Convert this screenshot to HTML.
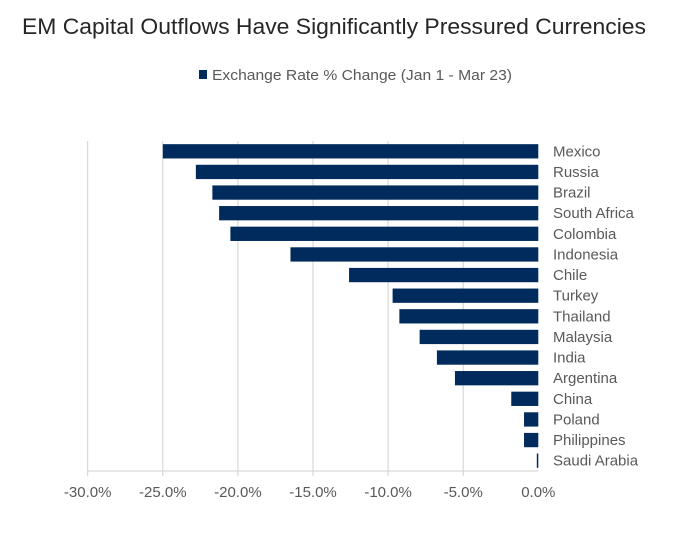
<!DOCTYPE html>
<html><head><meta charset="utf-8"><style>
html,body{margin:0;padding:0;background:#fff;}
svg{display:block;font-family:"Liberation Sans",sans-serif;}
</style></head><body>
<svg id="chart" width="685" height="536">
<text x="22" y="34" font-size="22" fill="#262626" textLength="624" lengthAdjust="spacingAndGlyphs">EM Capital Outflows Have Significantly Pressured Currencies</text>
<g>
<rect x="199" y="70" width="8" height="9" fill="#002B5C"/>
<text x="212" y="80" font-size="15" fill="#595959" textLength="300" lengthAdjust="spacingAndGlyphs">Exchange Rate % Change (Jan 1 - Mar 23)</text>
</g>
<g id="grid"></g>
<g id="bars"></g>
<g id="cats"></g>
<g id="xaxis"></g>
</svg>
<script>
const categories = ["Mexico","Russia","Brazil","South Africa","Colombia","Indonesia","Chile","Turkey","Thailand","Malaysia","India","Argentina","China","Poland","Philippines","Saudi Arabia"];
const values = [-25.0,-22.8,-21.7,-21.25,-20.5,-16.5,-12.6,-9.7,-9.25,-7.9,-6.75,-5.55,-1.8,-0.95,-0.95,-0.1];
const tickValues = [-30,-25,-20,-15,-10,-5,0];
const tickLabels = ["-30.0%","-25.0%","-20.0%","-15.0%","-10.0%","-5.0%","0.0%"];

const NS="http://www.w3.org/2000/svg";
const x0=87.7, x1=538.3, plotTop=141, plotBottom=471;
function xScale(v){return x0+(v+30)/30*(x1-x0);}
const step=(plotBottom-plotTop)/categories.length;
function yBand(i){return plotTop+i*step;}
function mk(t,a,p){const e=document.createElementNS(NS,t);for(const k in a)e.setAttribute(k,a[k]);p.appendChild(e);return e;}
const grid=document.getElementById('grid'),bars=document.getElementById('bars'),cats=document.getElementById('cats'),xa=document.getElementById('xaxis');
tickValues.forEach((v,i)=>{
  const x=xScale(v);
  if(v!==0){const l=mk('line',{x1:x,x2:x,y1:plotTop,y2:plotBottom+5,stroke:'#d0d0d0','stroke-width':1},grid);
  
  }
  const t=mk('text',{x:x,y:497,'font-size':15,fill:'#595959','text-anchor':'middle'},xa);
  t.textContent=tickLabels[i];
  
  
});
const ax=mk('line',{x1:x0,x2:x1,y1:plotBottom,y2:plotBottom,stroke:'#d0d0d0','stroke-width':1},xa);


const bh=14.3;
categories.forEach((c,i)=>{
  const yc=yBand(i)+step/2;
  const xv=xScale(values[i]), xz=xScale(0);
  const r=mk('rect',{x:Math.min(xv,xz),y:yc-bh/2,width:Math.max(Math.abs(xz-xv),1.2),height:bh,fill:'#002B5C'},bars);
  
  
  const t=mk('text',{x:553,y:yc+5,'font-size':15,fill:'#595959'},cats);
  t.textContent=c;
  
  
});
</script>
</body></html>
